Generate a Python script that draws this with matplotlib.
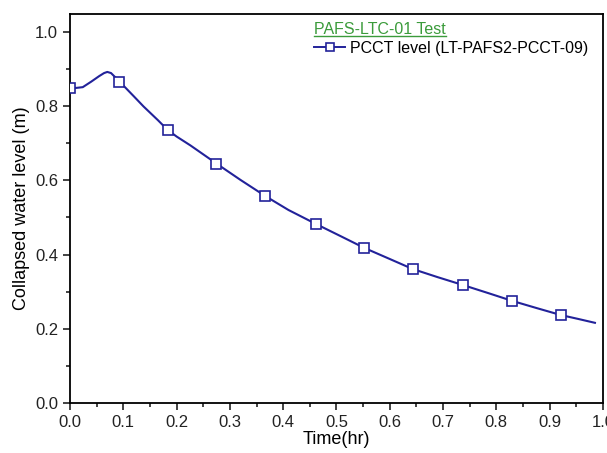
#!/usr/bin/env python3
"""PCCT collapsed water level during PAFS-LTC-01 test."""

import matplotlib
matplotlib.use("Agg")
import matplotlib.pyplot as plt
from matplotlib.lines import Line2D
from matplotlib.ticker import MultipleLocator, FormatStrFormatter

plt.rcParams["font.family"] = ["Liberation Sans", "DejaVu Sans"]

# curve (hr, m)
line_time = [0.0, 0.012, 0.024, 0.04, 0.055, 0.064, 0.070, 0.077, 0.084,
             0.093, 0.12, 0.138, 0.165, 0.183, 0.20, 0.226, 0.276, 0.32,
             0.366, 0.41, 0.462, 0.51, 0.552, 0.60, 0.643, 0.69, 0.737,
             0.785, 0.830, 0.875, 0.921, 0.955, 0.985]
line_level = [0.849, 0.849, 0.851, 0.866, 0.881, 0.889, 0.892, 0.889, 0.879,
              0.866, 0.826, 0.799, 0.762, 0.736, 0.718, 0.694, 0.644, 0.601,
              0.558, 0.520, 0.482, 0.448, 0.418, 0.388, 0.361, 0.339, 0.318,
              0.296, 0.275, 0.256, 0.237, 0.226, 0.216]

marker_time = [0.0, 0.092, 0.183, 0.274, 0.366, 0.462, 0.552, 0.643, 0.737,
               0.830, 0.921]
marker_level = [0.849, 0.866, 0.736, 0.643, 0.558, 0.482, 0.418, 0.361, 0.318,
                0.275, 0.237]

BLUE = "#22229a"
GREEN = "#3b9b3b"

fig = plt.figure(figsize=(6.07, 4.53), dpi=100)
ax = fig.add_axes([0.1153, 0.1104, 0.878, 0.8586])

ax.plot(line_time, line_level, "-", color=BLUE, linewidth=1.5, zorder=2)
ax.plot(marker_time, marker_level, "s", color=BLUE, markerfacecolor="white",
        markeredgewidth=1.2, markersize=7, zorder=3)

ax.set_xlim(0.0, 1.0)
ax.set_ylim(0.0, 1.048)
ax.xaxis.set_major_locator(MultipleLocator(0.1))
ax.xaxis.set_minor_locator(MultipleLocator(0.05))
ax.yaxis.set_major_locator(MultipleLocator(0.2))
ax.yaxis.set_minor_locator(MultipleLocator(0.1))
ax.tick_params(which="both", direction="out", labelsize=12, colors="#222222")
ax.tick_params(which="major", length=5, width=1.2)
ax.tick_params(which="minor", length=3, width=1.2)
for s in ax.spines.values():
    s.set_linewidth(1.3)
ax.xaxis.set_major_formatter(FormatStrFormatter("%.1f"))
ax.yaxis.set_major_formatter(FormatStrFormatter("%.1f"))

ax.set_xlabel("Time(hr)", fontsize=13, labelpad=1)
ax.set_ylabel("Collapsed water level (m)", fontsize=13, labelpad=4)

handle = Line2D([], [], color=BLUE, linewidth=1.4, marker="s",
                markerfacecolor="white", markeredgewidth=1.2, markersize=6)
leg = ax.legend([handle], ["PCCT level (LT-PAFS2-PCCT-09)"],
                title="PAFS-LTC-01 Test", loc="upper right", frameon=False,
                fontsize=11.5, title_fontsize=11.5, alignment="left",
                handlelength=1.9, handletextpad=0.35, labelspacing=0.25,
                bbox_to_anchor=(0.988, 1.0), borderaxespad=0.1)
leg.get_title().set_color(GREEN)

# underline the legend title
fig.canvas.draw()
bb = leg.get_title().get_window_extent().transformed(fig.transFigure.inverted())
fig.add_artist(Line2D([bb.x0, bb.x1], [bb.y0 + 0.002, bb.y0 + 0.002],
                      color=GREEN, linewidth=1.0,
                      transform=fig.transFigure))

fig.savefig("out.png", dpi=100)
